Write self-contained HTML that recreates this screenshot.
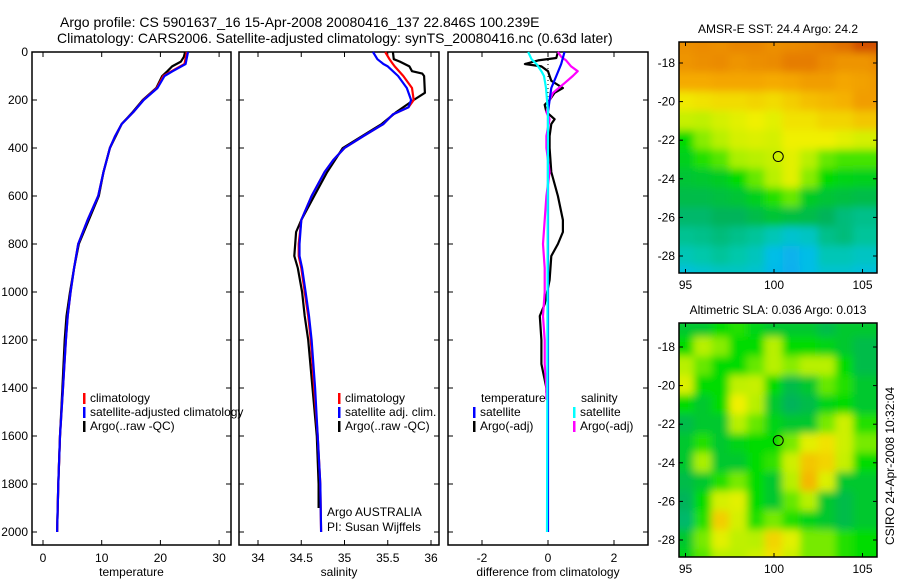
<!DOCTYPE html>
<html><head><meta charset="utf-8">
<style>
html,body{margin:0;padding:0;background:#fff;}
svg text{font-family:"Liberation Sans",sans-serif;fill:#000;}
</style></head>
<body>
<svg id="fig" width="900" height="580" viewBox="0 0 900 580" xmlns="http://www.w3.org/2000/svg">
<defs>
<filter id="blur" x="0" y="0" width="1" height="1"><feGaussianBlur stdDeviation="4" edgeMode="duplicate"/></filter>
<clipPath id="clipMap1"><rect x="679" y="42" width="198" height="231"/></clipPath>
<clipPath id="clipMap2"><rect x="679" y="323" width="198" height="234"/></clipPath>
</defs>
<text x="60" y="27" font-size="14">Argo profile: CS 5901637_16 15-Apr-2008 20080416_137 22.846S 100.239E</text>
<text x="57" y="43" font-size="14">Climatology: CARS2006. Satellite-adjusted climatology: synTS_20080416.nc (0.63d later)</text>
<g id="g"></g>
</svg>
<script>
// ---- data arrays ----
const tDepth = [0,50,80,100,150,200,250,300,350,400,500,600,700,800,900,1000,1100,1200,1400,1600,1800,2000];
const tClim  = [24.5,24.1,21.9,20.5,19.4,17.1,15.4,13.4,12.3,11.4,10.3,9.4,7.6,6.0,5.3,4.7,4.2,3.9,3.4,2.9,2.6,2.4];
const tSat   = [24.7,24.3,22.1,20.7,19.5,17.15,15.4,13.4,12.3,11.4,10.3,9.4,7.6,6.0,5.3,4.7,4.2,3.9,3.4,2.9,2.6,2.4];
const aDepth = [0,20,40,60,80,100,150,200,250,300,400,500,600,700,800,900,1000,1100,1200,1400,1600,1800,2000];
const tArgo  = [24.2,24.0,23.5,22.0,21.2,20.3,19.3,17.0,15.3,13.4,11.4,10.3,9.5,7.8,6.1,5.3,4.6,4.0,3.7,3.3,2.9,2.6,2.4];
const sDepth = [0,30,50,60,100,150,200,230,260,300,350,400,450,500,600,700,800,850,900,1000,1100,1200,1400,1600,1800,2000];
const sClim  = [35.47,35.52,35.56,35.58,35.68,35.78,35.8,35.74,35.56,35.45,35.22,35.0,34.87,34.77,34.62,34.5,34.47,34.47,34.5,34.54,34.58,34.61,34.65,34.69,34.72,34.73];
const sSat   = [35.33,35.38,35.45,35.5,35.62,35.72,35.77,35.74,35.56,35.45,35.22,35.0,34.87,34.77,34.62,34.5,34.48,34.48,34.51,34.55,34.59,34.62,34.66,34.69,34.72,34.73];
const saDepth= [0,30,40,60,80,90,100,170,200,250,300,400,500,600,700,750,800,850,900,1000,1100,1200,1400,1600,1800,1900];
const sArgo  = [35.56,35.57,35.64,35.75,35.78,35.9,35.92,35.93,35.8,35.6,35.43,34.98,34.8,34.65,34.5,34.44,34.43,34.42,34.46,34.51,34.54,34.58,34.63,34.68,34.7,34.7];
const dtSatDepth = [0,50,100,150,200,250,2000];
const dtSat      = [0.5,0.4,0.25,0.1,0.05,0,0];
const dtArgoDepth= [0,25,35,50,60,80,100,120,150,170,200,220,250,280,300,350,400,500,600,700,750,800,850,950,1050,1100,1200,1300,1400,1420];
const dtArgo     = [0.3,0.25,-0.3,-0.7,-0.2,0,0.05,0.1,0.45,0.2,0.05,-0.1,-0.05,0.2,0.1,0.05,0.05,0.1,0.3,0.45,0.45,0.3,0.1,0.05,-0.1,-0.25,-0.2,-0.2,-0.05,-0.05];
const dsSatDepth = [0,30,50,80,100,150,200,250,2000];
const dsSat      = [-0.6,-0.5,-0.35,-0.2,-0.12,-0.06,-0.03,0,-0.03];
const dsArgoDepth= [0,20,35,60,80,100,130,170,200,250,280,350,400,500,600,700,800,900,1000,1100,1200,1300,1400,1450];
const dsArgo     = [0.3,0.4,0.55,0.7,0.9,0.75,0.5,0.15,0.05,-0.05,0.05,-0.05,-0.05,0.05,-0.05,-0.1,-0.15,-0.1,-0.1,-0.15,-0.1,-0.1,-0.05,-0.05];
const tTicks = [0,10,20,30];
const sTicks = [34,34.5,35,35.5,36];
const dTicks = [-2,0,2];
const depthTicks = [0,200,400,600,800,1000,1200,1400,1600,1800,2000];
const latTicks = [-18,-20,-22,-24,-26,-28];
const lonTicks = [95,100,105];
const mapLats = [-17,-18,-19,-20,-21,-22,-23,-24,-25,-26,-27,-28,-29];
const mapLons = [94.5,95,96,97,98,99,100,101,102,103,104,105,106];
const sstGrid = [
[0.86,0.86,0.87,0.86,0.88,0.88,0.86,0.87,0.88,0.9,0.92,0.97,0.97],
[0.85,0.85,0.86,0.87,0.85,0.86,0.87,0.9,0.9,0.87,0.85,0.85,0.87],
[0.8,0.8,0.8,0.81,0.81,0.81,0.8,0.81,0.83,0.83,0.81,0.82,0.84],
[0.71,0.71,0.72,0.73,0.73,0.74,0.73,0.75,0.77,0.78,0.79,0.83,0.83],
[0.64,0.64,0.63,0.66,0.68,0.7,0.68,0.72,0.72,0.74,0.74,0.76,0.76],
[0.5,0.5,0.58,0.62,0.66,0.67,0.66,0.7,0.7,0.7,0.68,0.66,0.66],
[0.47,0.47,0.52,0.55,0.6,0.62,0.64,0.68,0.62,0.56,0.54,0.54,0.54],
[0.44,0.44,0.45,0.46,0.5,0.56,0.62,0.68,0.58,0.5,0.48,0.47,0.47],
[0.42,0.42,0.42,0.43,0.44,0.47,0.52,0.56,0.46,0.44,0.43,0.42,0.42],
[0.38,0.38,0.38,0.4,0.4,0.42,0.44,0.43,0.42,0.4,0.36,0.34,0.34],
[0.33,0.33,0.34,0.36,0.34,0.32,0.28,0.24,0.26,0.34,0.36,0.32,0.32],
[0.28,0.28,0.3,0.32,0.3,0.27,0.2,0.15,0.2,0.28,0.28,0.26,0.26],
[0.22,0.22,0.24,0.26,0.26,0.24,0.18,0.14,0.2,0.24,0.24,0.22,0.22]];
const slaGrid = [
[0.45,0.45,0.45,0.5,0.52,0.48,0.45,0.45,0.45,0.42,0.45,0.45,0.45],
[0.5,0.5,0.62,0.58,0.5,0.5,0.62,0.5,0.5,0.48,0.45,0.42,0.42],
[0.62,0.62,0.56,0.5,0.5,0.56,0.62,0.58,0.62,0.62,0.5,0.42,0.42],
[0.67,0.67,0.5,0.5,0.63,0.64,0.5,0.42,0.45,0.56,0.52,0.45,0.45],
[0.5,0.5,0.45,0.5,0.7,0.62,0.45,0.4,0.42,0.48,0.5,0.45,0.45],
[0.42,0.42,0.45,0.45,0.62,0.56,0.48,0.45,0.45,0.57,0.65,0.52,0.52],
[0.45,0.45,0.52,0.45,0.48,0.5,0.5,0.57,0.68,0.72,0.65,0.57,0.57],
[0.45,0.45,0.6,0.45,0.45,0.5,0.53,0.65,0.76,0.74,0.64,0.5,0.5],
[0.42,0.42,0.45,0.52,0.57,0.5,0.45,0.62,0.78,0.67,0.45,0.45,0.45],
[0.4,0.4,0.5,0.66,0.68,0.5,0.45,0.56,0.62,0.45,0.42,0.45,0.45],
[0.38,0.38,0.52,0.75,0.66,0.52,0.57,0.52,0.48,0.45,0.42,0.45,0.45],
[0.45,0.45,0.57,0.68,0.63,0.62,0.74,0.68,0.57,0.57,0.52,0.5,0.5],
[0.48,0.48,0.55,0.62,0.62,0.65,0.72,0.65,0.57,0.57,0.52,0.5,0.5]];
const argoLon = 100.239, argoLat = -22.846;

// ---- helpers ----
const NS = "http://www.w3.org/2000/svg";
const G = document.getElementById('g');
function el(tag, attrs, parent){ const e=document.createElementNS(NS,tag); for(const k in attrs) e.setAttribute(k,attrs[k]); (parent||G).appendChild(e); return e; }
const yD = d => 52 + 0.24*d;
const PT = {L:32,R:231,x0:43,k:5.87};
const PS = {L:239,R:439,x0:258,k:86.5,v0:34};
const PD = {L:448,R:648,x0:548,k:33};
const xT = v => PT.x0 + PT.k*v;
const xS = v => PS.x0 + PS.k*(v-34);
const xDf = v => PD.x0 + PD.k*v;
const TOP=52, BOT=545;

function panel(name, P, xf, ticks, label, showY){
  const g = el('g',{});
  
  
  const r = el('rect',{x:P.L,y:TOP,width:P.R-P.L,height:BOT-TOP,fill:'none',stroke:'#000','stroke-width':1.5},g);
  
  
  ticks.forEach(t=>{
    const x=xf(t);
    el('line',{x1:x,y1:BOT,x2:x,y2:BOT-5,stroke:'#000'},g);
    el('line',{x1:x,y1:TOP,x2:x,y2:TOP+5,stroke:'#000'},g);
    const tx=el('text',{x:x,y:BOT+17,'font-size':12,'text-anchor':'middle'},g);
    tx.textContent=t;
    
    
  });
  depthTicks.forEach(d=>{
    const y=yD(d);
    el('line',{x1:P.L,y1:y,x2:P.L+5,y2:y,stroke:'#000'},g);
    el('line',{x1:P.R,y1:y,x2:P.R-5,y2:y,stroke:'#000'},g);
    if(showY){
      const tx=el('text',{x:28,y:y+4,'font-size':12,'text-anchor':'end'},g);
      tx.textContent=d;
      
      
    }
  });
  const lb=el('text',{x:(P.L+P.R)/2,y:576,'font-size':12,'text-anchor':'middle'},g);
  lb.textContent=label;
  
  
}
function line(name, depths, vals, xf, color, w){
  const pts = depths.map((d,i)=>xf(vals[i]).toFixed(1)+','+yD(d).toFixed(1)).join(' ');
  const p = el('polyline',{points:pts,fill:'none',stroke:color,'stroke-width':w||2.2,'stroke-linejoin':'round'});
  
  
}
function legend(x, y, color, text, name){
  const r=el('rect',{x:x,y:y-9,width:2.5,height:11,fill:color});
  
  
  const t=el('text',{x:x+7,y:y,'font-size':12});
  t.textContent=text;
  
  
}
function txt(x,y,s,name,extra){
  const t=el('text',Object.assign({x:x,y:y,'font-size':12},extra||{}));
  t.textContent=s;
  
  
  return t;
}

// ---- panels ----
panel('temperature-panel', PT, xT, tTicks, 'temperature', true);
panel('salinity-panel', PS, xS, sTicks, 'salinity', false);
panel('difference-panel', PD, xDf, dTicks, 'difference from climatology', false);

line('temp-argo-line', aDepth, tArgo, xT, '#000');
line('temp-climatology-line', tDepth, tClim, xT, '#f00');
line('temp-satellite-line', tDepth, tSat, xT, '#00f');

line('sal-argo-line', saDepth, sArgo, xS, '#000');
line('sal-climatology-line', sDepth, sClim, xS, '#f00');
line('sal-satellite-line', sDepth, sSat, xS, '#00f');

const zl = el('line',{x1:xDf(0),y1:yD(0),x2:xDf(0),y2:yD(250),stroke:'#000','stroke-dasharray':'1,3'});


line('diff-temp-argo-line', dtArgoDepth, dtArgo, xDf, '#000');
line('diff-sal-argo-line', dsArgoDepth, dsArgo, xDf, '#f0f');
line('diff-temp-satellite-line', dtSatDepth, dtSat, xDf, '#00f');
line('diff-sal-satellite-line', dsSatDepth, dsSat, xDf, '#0ff');

// legends
legend(83,402,'#f00','climatology','legend-temp-climatology');
legend(83,416,'#00f','satellite-adjusted climatology','legend-temp-satellite');
legend(83,430,'#000','Argo(..raw -QC)','legend-temp-argo');
legend(338,402,'#f00','climatology','legend-sal-climatology');
legend(338,416,'#00f','satellite adj. clim.','legend-sal-satellite');
legend(338,430,'#000','Argo(..raw -QC)','legend-sal-argo');
txt(327,516,'Argo AUSTRALIA','argo-australia-label');
txt(327,531,'PI: Susan Wijffels','pi-label');
txt(481,402,'temperature','legend-temperature-heading');
legend(473,416,'#00f','satellite','legend-diff-temp-satellite');
legend(473,430,'#000','Argo(-adj)','legend-diff-temp-argo');
txt(581,402,'salinity','legend-salinity-heading');
legend(573,416,'#0ff','satellite','legend-diff-sal-satellite');
legend(573,430,'#f0f','Argo(-adj)','legend-diff-sal-argo');

// ---- maps ----
const cstops=[[0,[30,140,255]],[0.2,[0,190,230]],[0.3,[0,200,170]],[0.4,[0,180,90]],[0.5,[0,220,0]],[0.6,[170,240,0]],[0.7,[240,240,0]],[0.8,[245,170,0]],[0.9,[230,125,0]],[1,[200,60,0]]];
function cmap(v){
  for(let i=1;i<cstops.length;i++){ if(v<=cstops[i][0]){const a=cstops[i-1],b=cstops[i];const f=(v-a[0])/(b[0]-a[0]);return 'rgb('+a[1].map((c,j)=>Math.round(c+(b[1][j]-c)*f)).join(',')+')';} }
  return 'rgb(200,60,0)';
}
function map(name, M, grid, title){
  const g=el('g',{});
  
  
  const xL = lon => 774 + 17.7*(lon-100);
  const yL = lat => M.y18 + 19.3*(-18-lat);
  const img=el('g',{'clip-path':'url(#'+M.clip+')'},g);
  const inner=el('g',{filter:'url(#blur)'},img);
  el('rect',{x:679,y:M.T,width:198,height:M.B-M.T,fill:cmap(0.5)},inner);
  grid.forEach((row,i)=>row.forEach((v,j)=>{
    const lon=mapLons[j], lat=mapLats[i];
    const c=el('rect',{x:xL(lon)-9.5,y:yL(lat)-10.2,width:19,height:20.4,fill:cmap(v)},inner);
    
    
  }));
  const fr=el('rect',{x:679,y:M.T,width:198,height:M.B-M.T,fill:'none',stroke:'#000','stroke-width':1.5},g);
  
  
  latTicks.forEach(l=>{
    const y=yL(l);
    el('line',{x1:679,y1:y,x2:683,y2:y,stroke:'#000'},g);
    el('line',{x1:877,y1:y,x2:873,y2:y,stroke:'#000'},g);
    const t=el('text',{x:675,y:y+4,'font-size':12,'text-anchor':'end'},g);
    t.textContent=l;
    
    
  });
  lonTicks.forEach(l=>{
    const x=xL(l);
    el('line',{x1:x,y1:M.T,x2:x,y2:M.T+4,stroke:'#000'},g);
    el('line',{x1:x,y1:M.B,x2:x,y2:M.B-4,stroke:'#000'},g);
    const t=el('text',{x:x,y:M.B+16,'font-size':12,'text-anchor':'middle'},g);
    t.textContent=l;
    
    
  });
  const c=el('circle',{cx:xL(argoLon),cy:yL(argoLat),r:5,fill:'none',stroke:'#000','stroke-width':1},g);
  
  
  const t=el('text',{x:778,y:M.T-9,'font-size':12,'text-anchor':'middle'},g);
  t.textContent=title;
  
  
}
map('sst-map',{T:42,B:273,y18:63,clip:'clipMap1'},sstGrid,'AMSR-E SST: 24.4 Argo: 24.2');
map('sla-map',{T:323,B:557,y18:347,clip:'clipMap2'},slaGrid,'Altimetric SLA: 0.036 Argo: 0.013');
const cs=txt(0,0,'CSIRO 24-Apr-2008 10:32:04','csiro-timestamp',{'text-anchor':'middle',transform:'translate(894,466) rotate(-90)'});
</script>
</body></html>
